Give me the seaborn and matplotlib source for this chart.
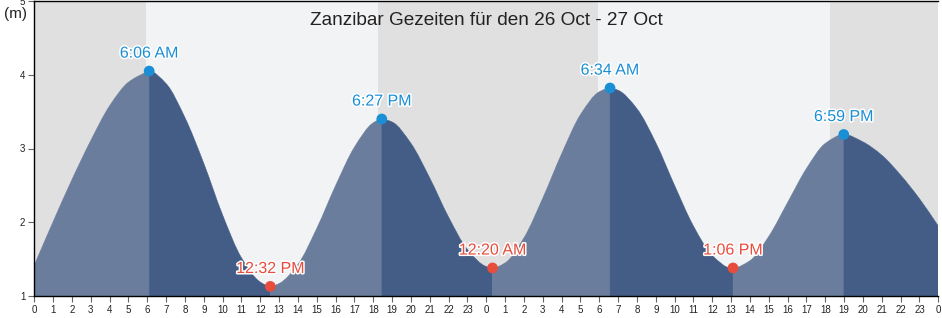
import matplotlib
matplotlib.use("Agg")
import matplotlib.pyplot as plt
import matplotlib.patheffects as pe
from matplotlib.path import Path
from matplotlib.patches import PathPatch
import numpy as np
import pandas as pd
import seaborn as sns

# ---------------- data ----------------
title = "Zanzibar Gezeiten für den 26 Oct - 27 Oct"
y_label = "(m)"

hours = list(range(49))
hourly_height = [1.42, 2.01, 2.58, 3.11, 3.58, 3.90, 4.04, 3.88, 3.42, 2.80,
                 2.10, 1.52, 1.19, 1.17, 1.43, 1.92, 2.50, 3.02, 3.35, 3.36,
                 3.07, 2.60, 2.07, 1.63, 1.40, 1.45, 1.79, 2.33, 2.93, 3.46,
                 3.77, 3.79, 3.54, 3.08, 2.50, 1.95, 1.55, 1.38, 1.48, 1.81,
                 2.27, 2.73, 3.07, 3.19, 3.09, 2.91, 2.64, 2.32, 1.95]

high_times = [6.10, 18.45, 30.57, 42.98]
high_heights = [4.05, 3.40, 3.82, 3.19]
high_labels = ["6:06 AM", "6:27 PM", "6:34 AM", "6:59 PM"]

low_times = [12.53, 24.33, 37.10]
low_heights = [1.13, 1.38, 1.38]
low_labels = ["12:32 PM", "12:20 AM", "1:06 PM"]

night_spans = [(0.0, 5.93), (18.23, 29.95), (42.26, 48.0)]

x_ticks = list(range(49))
x_tick_labels = [str(h % 24) for h in x_ticks]
y_ticks = [1, 2, 3, 4, 5]

# ---------------- style ----------------
sns.set_theme(style="ticks")
plt.rcParams["font.family"] = ["Liberation Sans", "DejaVu Sans"]

DAY_BG = "#f2f3f5"
NIGHT_BG = "#e0e0e0"
RISE = "#6a7d9c"
FALL = "#445d86"
BLUE = "#1a8fd6"
RED = "#e84c3d"

fig = plt.figure(figsize=(9.42, 3.18), dpi=100)
ax = fig.add_axes([34.3 / 942, 22 / 318, (938.3 - 34.3) / 942, 295 / 318])
ax.set_facecolor(DAY_BG)
for a, b in night_spans:
    ax.axvspan(a, b, color=NIGHT_BG, lw=0, zorder=0)

# curve table (hourly readings + extremes)
curve = pd.DataFrame({
    "t": hours + high_times + low_times,
    "h": hourly_height + high_heights + low_heights,
}).sort_values("t").reset_index(drop=True)
T = curve.t.to_numpy()
H = curve.h.to_numpy()

# monotone (Fritsch-Carlson) tangents so the drawn outline is smooth
dx = np.diff(T)
d = np.diff(H) / dx
m = np.zeros_like(H)
m[0], m[-1] = d[0], d[-1]
for k in range(1, len(H) - 1):
    if d[k - 1] * d[k] > 0:
        w1 = 2 * dx[k] + dx[k - 1]
        w2 = dx[k] + 2 * dx[k - 1]
        m[k] = (w1 + w2) / (w1 / d[k - 1] + w2 / d[k])
extreme_set = set(high_times + low_times)
for k in range(len(T)):
    if any(abs(T[k] - e) < 1e-9 for e in extreme_set):
        m[k] = 0.0

bounds = [0.0] + sorted(high_times + low_times) + [48.0]
for i in range(len(bounds) - 1):
    a, b = bounds[i], bounds[i + 1]
    idx = np.where((T >= a - 1e-9) & (T <= b + 1e-9))[0]
    verts = [(T[idx[0]], 1.0), (T[idx[0]], H[idx[0]])]
    codes = [Path.MOVETO, Path.LINETO]
    for j0, j1 in zip(idx[:-1], idx[1:]):
        h = T[j1] - T[j0]
        verts += [(T[j0] + h / 3, H[j0] + m[j0] * h / 3),
                  (T[j1] - h / 3, H[j1] - m[j1] * h / 3),
                  (T[j1], H[j1])]
        codes += [Path.CURVE4] * 3
    verts += [(T[idx[-1]], 1.0), (T[idx[0]], 1.0)]
    codes += [Path.LINETO, Path.CLOSEPOLY]
    color = RISE if i % 2 == 0 else FALL
    ax.add_patch(PathPatch(Path(verts, codes), facecolor=color,
                           edgecolor=color, lw=0.3, zorder=2))

stroke = [pe.withStroke(linewidth=2.2, foreground="white")]
sns.scatterplot(x=high_times, y=high_heights, color=BLUE, s=60,
                edgecolor="none", ax=ax, zorder=5)
sns.scatterplot(x=low_times, y=low_heights, color=RED, s=60,
                edgecolor="none", ax=ax, zorder=5)
for t, h, lab in zip(high_times, high_heights, high_labels):
    ax.annotate(lab, (t, h), xytext=(0, 7.5), textcoords="offset points",
                ha="center", va="bottom", fontsize=11.5, color=BLUE,
                path_effects=stroke, zorder=6)
for t, h, lab in zip(low_times, low_heights, low_labels):
    ax.annotate(lab, (t, h), xytext=(0, 7.5), textcoords="offset points",
                ha="center", va="bottom", fontsize=11.5, color=RED,
                path_effects=stroke, zorder=6)

ax.set_xlim(0, 48)
ax.set_ylim(1, 5)
ax.set_xticks(x_ticks)
ax.set_xticklabels(x_tick_labels)
ax.set_yticks(y_ticks)
ax.set_xlabel("")
ax.set_ylabel("")
ax.tick_params(axis="both", labelsize=7, length=4, width=0.8,
               color="#666666", labelcolor="#222222", pad=2.5)
ax.grid(False)
for s in ["left", "bottom", "top"]:
    ax.spines[s].set_color("black")
    ax.spines[s].set_linewidth(1.0)
ax.spines["right"].set_visible(False)

ax.text(0.5, 1 - 24 / 295, title, transform=ax.transAxes, ha="center",
        va="baseline", fontsize=13.7, color="#222222", zorder=7)
fig.text(4 / 942, 1 - 18 / 318, y_label, ha="left", va="baseline",
         fontsize=11, color="#222222")

fig.savefig("out.png", dpi=100)
